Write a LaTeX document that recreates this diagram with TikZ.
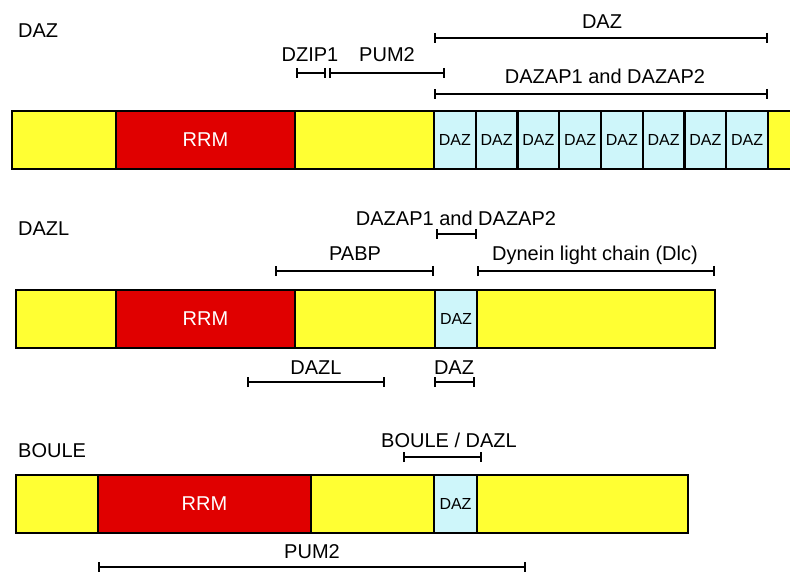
\documentclass[tikz,border=0pt]{standalone}
\usepackage{fontspec}
\setmainfont{Liberation Sans}
\usetikzlibrary{arrows.meta}
\definecolor{yel}{RGB}{255,255,51}
\definecolor{rrmred}{RGB}{224,0,0}
\definecolor{dazblue}{RGB}{206,246,250}
\tikzset{
  seg/.style={draw=black, line width=2.2pt, inner sep=0pt, outer sep=0pt, anchor=north west, minimum height=58pt},
  yseg/.style={seg, fill=yel},
  rseg/.style={seg, fill=rrmred, text=white, font=\fontsize{20}{24}\selectfont},
  bseg/.style={seg, fill=dazblue, font=\fontsize{16}{19}\selectfont},
  spanbar/.style={line width=2pt, {Bar[width=10pt]}-{Bar[width=10pt]}},
  lab/.style={anchor=base, inner sep=0pt, font=\fontsize{20}{24}\selectfont},
  ttl/.style={anchor=base west, inner sep=0pt, font=\fontsize{20}{24}\selectfont}
}
\begin{document}
\begin{tikzpicture}[x=1pt,y=-1pt]
\useasboundingbox (0,0) rectangle (790,572);
\clip (0,0) rectangle (790,572);
% ---------- DAZ ----------
\node[ttl] (t1) at (18,38) {DAZ};
\node[yseg, minimum width=104pt] (a1) at (12,111) {};
\node[rseg, minimum width=179pt] (a2) at (116,111) {RRM};
\node[yseg, minimum width=139pt] (a3) at (295,111) {};
\foreach \i in {0,...,7}{
  \node[bseg, minimum width=41.75pt] (c\i) at ({434+41.75*\i},111) {DAZ};
}
\node[yseg, minimum width=40pt] (a4) at (768,111) {};
\coordinate (r1a) at (434,38); \coordinate (r1b) at (768,38);
\draw[spanbar] (r1a) -- (r1b);
\node[lab] (l1) at (602,29) {DAZ};
\coordinate (r2a) at (296,73); \coordinate (r2b) at (326,73);
\draw[spanbar] (r2a) -- (r2b);
\node[lab] (l2) at (310,62) {DZIP1};
\coordinate (r3a) at (329,73); \coordinate (r3b) at (445,73);
\draw[spanbar] (r3a) -- (r3b);
\node[lab] (l3) at (387,62) {PUM2};
\coordinate (r4a) at (434,94); \coordinate (r4b) at (768,94);
\draw[spanbar] (r4a) -- (r4b);
\node[lab] (l4) at (605,84) {DAZAP1 and DAZAP2};
% ---------- DAZL ----------
\node[ttl] (t2) at (18,236) {DAZL};
\node[yseg, minimum width=100pt] (b1) at (16,290) {};
\node[rseg, minimum width=179pt] (b2) at (116,290) {RRM};
\node[yseg, minimum width=140pt] (b3) at (295,290) {};
\node[bseg, minimum width=42pt] (b4) at (435,290) {DAZ};
\node[yseg, minimum width=238pt] (b5) at (477,290) {};
\coordinate (s1a) at (436,234); \coordinate (s1b) at (477,234);
\draw[spanbar] (s1a) -- (s1b);
\node[lab] (m1) at (456,226) {DAZAP1 and DAZAP2};
\coordinate (s2a) at (275,271); \coordinate (s2b) at (434,271);
\draw[spanbar] (s2a) -- (s2b);
\node[lab] (m2) at (355,261) {PABP};
\coordinate (s3a) at (477,271); \coordinate (s3b) at (715,271);
\draw[spanbar] (s3a) -- (s3b);
\node[lab] (m3) at (595,261) {Dynein light chain (Dlc)};
\coordinate (s4a) at (247,382); \coordinate (s4b) at (385,382);
\draw[spanbar] (s4a) -- (s4b);
\node[lab] (m4) at (316,374) {DAZL};
\coordinate (s5a) at (434,382); \coordinate (s5b) at (475,382);
\draw[spanbar] (s5a) -- (s5b);
\node[lab] (m5) at (454,374) {DAZ};
% ---------- BOULE ----------
\node[ttl] (t3) at (18,457) {BOULE};
\node[yseg, minimum width=82pt] (e1) at (16,475) {};
\node[rseg, minimum width=213pt] (e2) at (98,475) {RRM};
\node[yseg, minimum width=123pt] (e3) at (311,475) {};
\node[bseg, minimum width=43pt] (e4) at (434,475) {DAZ};
\node[yseg, minimum width=211pt] (e5) at (477,475) {};
\coordinate (u1a) at (403,457); \coordinate (u1b) at (482,457);
\draw[spanbar] (u1a) -- (u1b);
\node[lab] (n1) at (449,447) {BOULE / DAZL};
\coordinate (u2a) at (98,567); \coordinate (u2b) at (526,567);
\draw[spanbar] (u2a) -- (u2b);
\node[lab] (n2) at (312,558) {PUM2};
\end{tikzpicture}
\end{document}
